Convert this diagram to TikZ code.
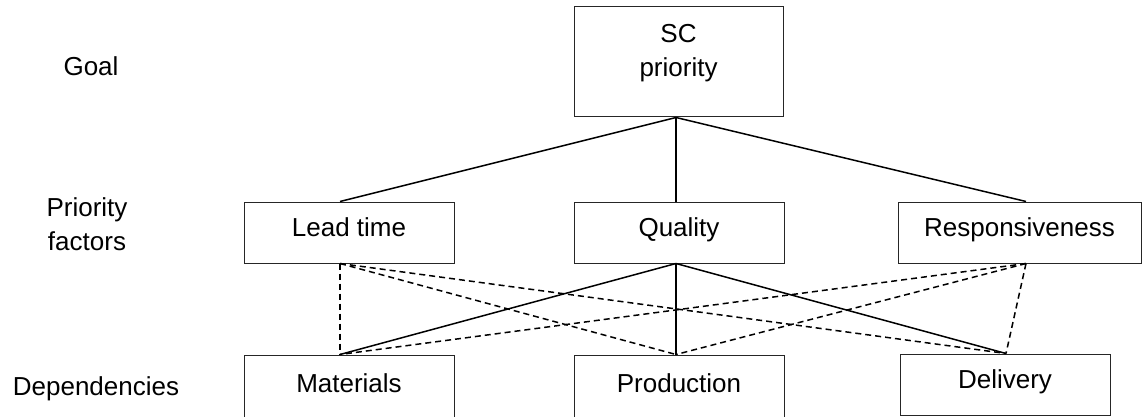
\documentclass[tikz,border=0pt]{standalone}
\usepackage{fontspec}
\setmainfont{Liberation Sans}
\usetikzlibrary{calc}
\begin{document}
\begin{tikzpicture}[x=1pt,y=-1pt,
  every node/.style={font=\fontsize{26}{34}\selectfont, inner sep=0pt},
  lvl/.style={anchor=base, align=center},
  box/.style={draw=black!85, line width=1pt, rectangle, text height=12pt, text depth=5pt},
  link/.style={line width=1.5pt, black},
  dlink/.style={line width=1.5pt, black, dash pattern=on 6pt off 4pt}]
\useasboundingbox[fill=white] (0,0) rectangle (1142,417);
% level labels
\node[lvl] (lgoal) at (91,76) {Goal};
\node[lvl] (lprio) at (87,250) {Priority\\factors};
\node[lvl] (ldep) at (96,395) {Dependencies};
% boxes
\node[box, minimum width=209pt, minimum height=110pt, align=center, text height=36pt, text depth=6pt] (sc) at (678.5,62) {SC\\priority};
\node[box, minimum width=210pt, minimum height=61pt] (lead) at (349,232.5) {Lead time};
\node[box, minimum width=210pt, minimum height=61pt] (qual) at (679,232.5) {Quality};
\node[box, minimum width=243pt, minimum height=61pt] (resp) at (1019.5,232.5) {Responsiveness};
\node[box, minimum width=210pt, minimum height=68pt] (mat) at (349,389) {Materials};
\node[box, minimum width=210pt, minimum height=68pt] (prod) at (679,389) {Production};
\node[box, minimum width=210pt, minimum height=61pt] (del) at (1005,384.5) {Delivery};
% connection points
\coordinate (scB) at (sc.south -| 676,0);
\coordinate (leadT) at (lead.north -| 340,0);
\coordinate (leadB) at (lead.south -| 340,0);
\coordinate (qualT) at (qual.north -| 676,0);
\coordinate (qualB) at (qual.south -| 676,0);
\coordinate (respT) at (resp.north -| 1026,0);
\coordinate (respB) at (resp.south -| 1026,0);
\coordinate (matT) at (mat.north -| 340,0);
\coordinate (prodT) at (prod.north -| 676,0);
\coordinate (delT) at (del.north -| 1006,0);
% goal to factors
\draw[link] (scB) -- (leadT);
\draw[link] (scB) -- (qualT);
\draw[link] (scB) -- (respT);
% quality to dependencies
\draw[link] (qualB) -- (matT);
\draw[link] (qualB) -- (prodT);
\draw[link] (qualB) -- (delT);
% lead time (dashed)
\draw[dlink] (leadB) -- (matT);
\draw[dlink] (leadB) -- (prodT);
\draw[dlink] (leadB) -- (delT);
% responsiveness (dashed)
\draw[dlink] (respB) -- (matT);
\draw[dlink] (respB) -- (prodT);
\draw[dlink] (respB) -- (delT);
\end{tikzpicture}
\end{document}
